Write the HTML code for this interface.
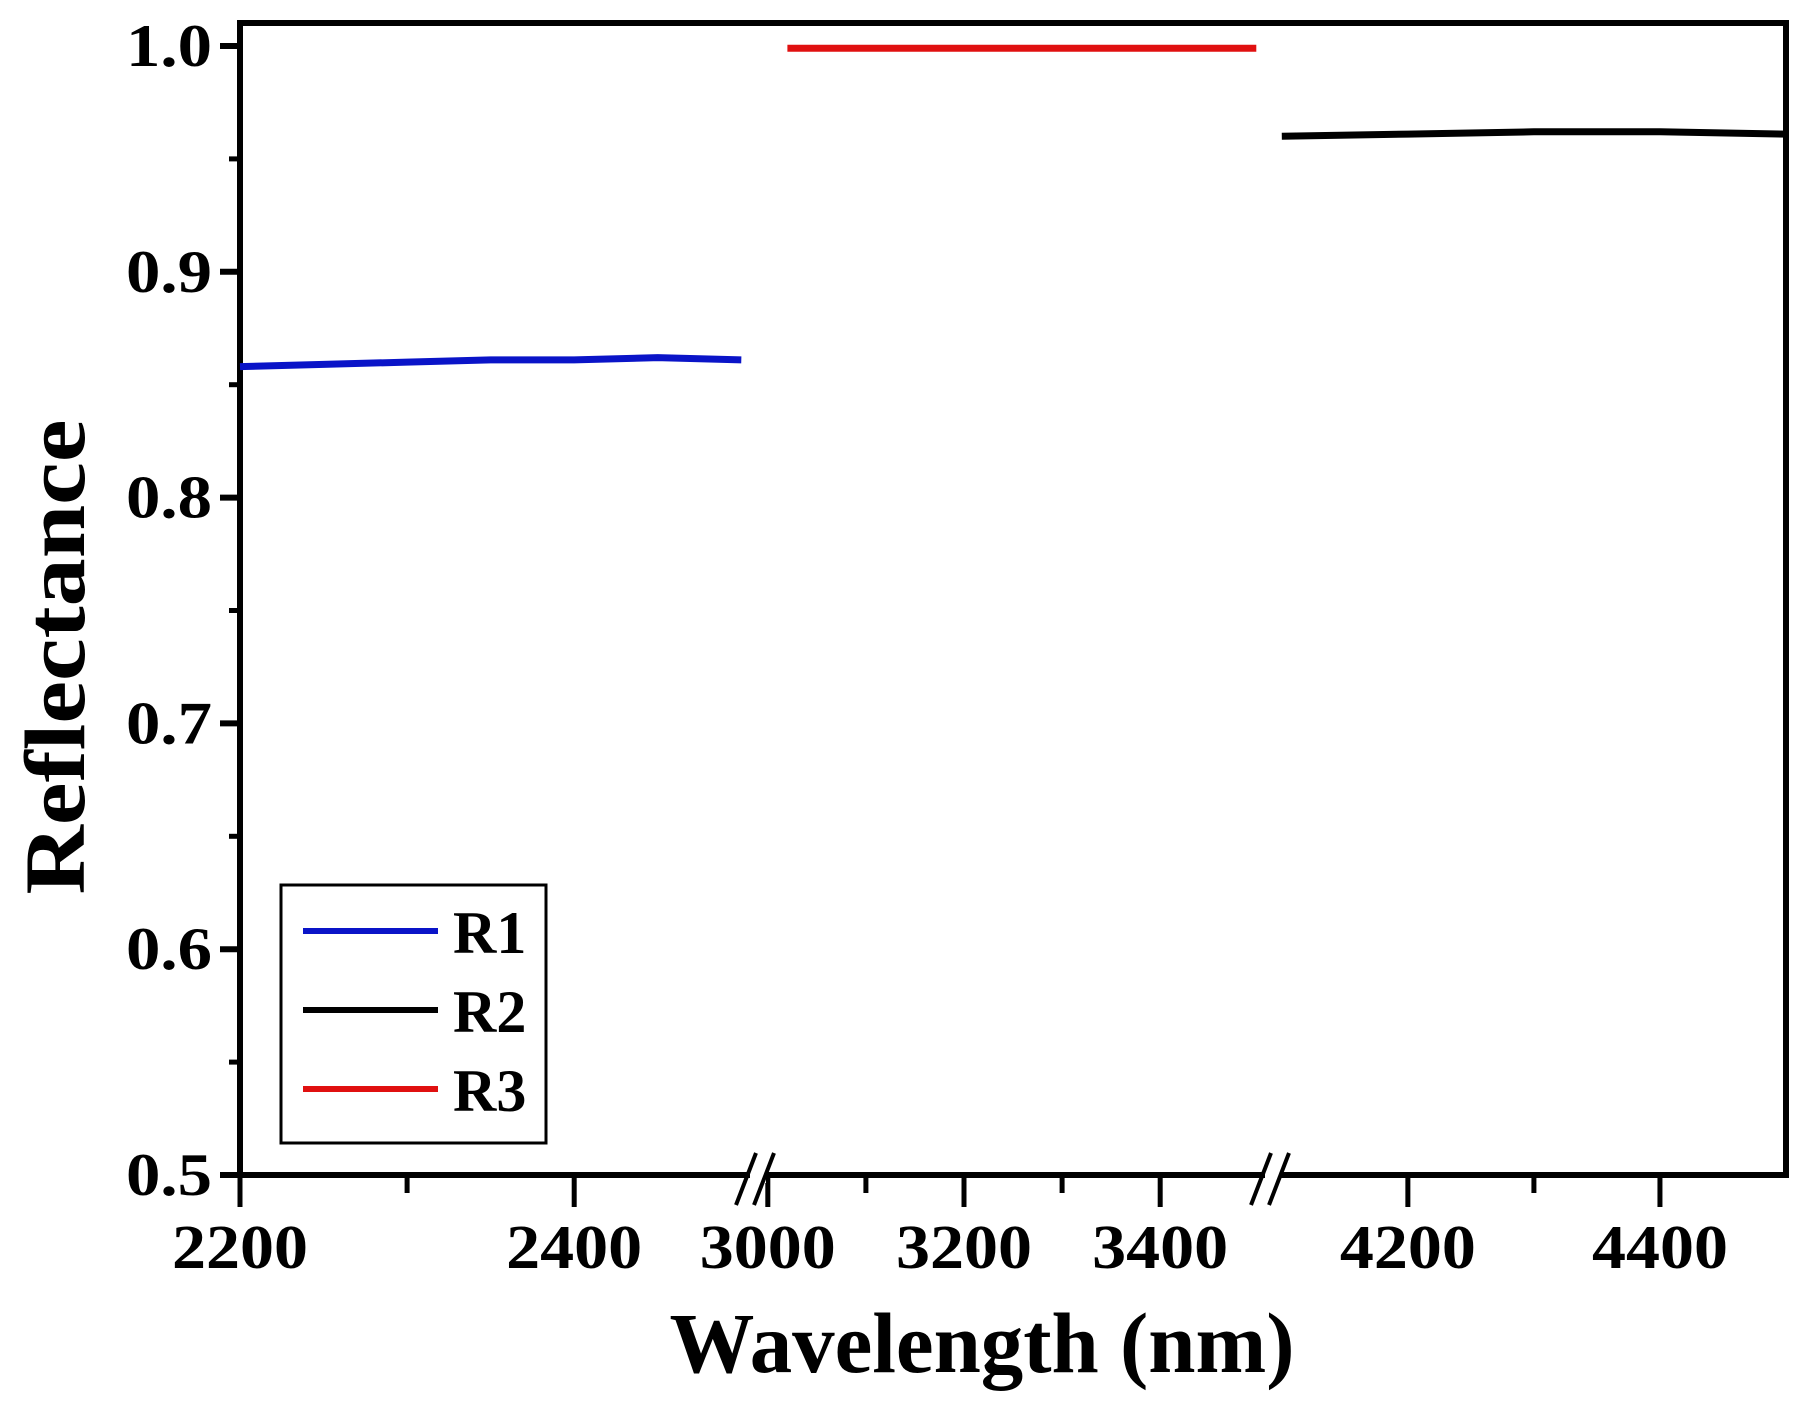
<!DOCTYPE html>
<html><head><meta charset="utf-8"><style>
html,body{margin:0;padding:0;background:#fff;}
svg{display:block;}
text{font-family:"Liberation Serif",serif;font-weight:bold;fill:#000;}
</style></head><body>
<svg id="chart" width="1807" height="1401" viewBox="0 0 1807 1401" xmlns="http://www.w3.org/2000/svg"></svg>
<script>
const seriesNames = ["R1","R2","R3"];
const seriesColors = ["#0a14c8","#000000","#e01010"];
const r1X = [2200, 2250, 2300, 2350, 2400, 2450, 2500];
const r1Y = [0.858, 0.859, 0.860, 0.861, 0.861, 0.862, 0.861];
const r2X = [4100, 4200, 4300, 4400, 4500];
const r2Y = [0.960, 0.961, 0.962, 0.962, 0.961];
const r3X = [3020, 3200, 3350, 3498];
const r3Y = [0.999, 0.999, 0.999, 0.999];
const yTicks = [0.5, 0.6, 0.7, 0.8, 0.9, 1.0];
const yTickLabels = ["0.5","0.6","0.7","0.8","0.9","1.0"];
const xTicks = [2200, 2400, 3000, 3200, 3400, 4200, 4400];
const xTickLabels = ["2200","2400","3000","3200","3400","4200","4400"];
const xMinor = [2300, 3100, 3300, 4300];

const svg = document.getElementById('chart');
const NS = "http://www.w3.org/2000/svg";
const L=240, R=1786, T=23, B=1175;
const segs = [
  {d0:2200, d1:2510, p0:240, p1:758},
  {d0:2990, d1:3515, p0:758, p1:1273},
  {d0:4093, d1:4500, p0:1273, p1:1786}
];
function xs(v){
  for (const s of segs) if (v>=s.d0 && v<=s.d1) return s.p0+(v-s.d0)/(s.d1-s.d0)*(s.p1-s.p0);
  return v<2990?758:1273;
}
function ys(v){ return 1175-(v-0.5)*(1175-46)/0.5; }
function el(tag, attrs, parent){
  const e=document.createElementNS(NS,tag);
  for (const k in attrs) e.setAttribute(k, attrs[k]);
  (parent||svg).appendChild(e); return e;
}
// frame
const frame = el('rect',{x:L,y:T,width:R-L,height:B-T,fill:'none',stroke:'#000','stroke-width':6});


// y ticks
yTicks.forEach((v,i)=>{
  const y=ys(v);
  const t=el('line',{x1:L-20,x2:L,y1:y,y2:y,stroke:'#000','stroke-width':6});
  
  
  const tx=el('text',{x:L-28,y:y+20,'text-anchor':'end','font-size':60,textLength:86,lengthAdjust:'spacingAndGlyphs'});
  tx.textContent=yTickLabels[i];
  
  
  if (i<yTicks.length-1){
    const ym=ys(v+0.05);
    const m=el('line',{x1:L-11,x2:L,y1:ym,y2:ym,stroke:'#000','stroke-width':5});
    
    
  }
});
// x ticks
xTicks.forEach((v,i)=>{
  const x=xs(v);
  const t=el('line',{x1:x,x2:x,y1:B,y2:B+32,stroke:'#000','stroke-width':5});
  
  
  const tx=el('text',{x:x,y:1268,'text-anchor':'middle','font-size':62,textLength:136,lengthAdjust:'spacingAndGlyphs'});
  tx.textContent=xTickLabels[i];
  
  
});
xMinor.forEach(v=>{
  const x=xs(v);
  const m=el('line',{x1:x,x2:x,y1:B,y2:B+18,stroke:'#000','stroke-width':5});
  
  
});
// axis breaks
[758,1273].forEach(bx=>{
  const g=el('g',{});
  
  
  el('rect',{x:bx-8,y:B-8,width:16,height:16,fill:'#fff'},g);
  el('line',{x1:bx-22,x2:bx-2,y1:B+30,y2:B-22,stroke:'#000','stroke-width':4},g);
  el('line',{x1:bx-4,x2:bx+16,y1:B+30,y2:B-22,stroke:'#000','stroke-width':4},g);
});
// series
[[r1X,r1Y],[r2X,r2Y],[r3X,r3Y]].forEach((s,i)=>{
  const pts=s[0].map((x,j)=>xs(x).toFixed(1)+','+ys(s[1][j]).toFixed(1)).join(' ');
  const p=el('polyline',{points:pts,fill:'none',stroke:seriesColors[i],'stroke-width':7});
  
  
});
// legend
const lg=el('g',{});


el('rect',{x:281,y:885,width:265,height:258,fill:'#fff',stroke:'#000','stroke-width':3},lg);
seriesNames.forEach((n,i)=>{
  const y=931+i*79;
  const e=el('g',{},lg);
  
  
  el('line',{x1:303,x2:438,y1:y,y2:y,stroke:seriesColors[i],'stroke-width':6},e);
  const t=el('text',{x:453,y:y+22,'font-size':60},e);
  t.textContent=n;
});
// axis titles
const xt=el('text',{x:982,y:1372,'text-anchor':'middle','font-size':86,textLength:625,lengthAdjust:'spacingAndGlyphs'});
xt.textContent='Wavelength (nm)';


const yt=el('text',{x:0,y:0,'text-anchor':'middle','font-size':86,textLength:475,lengthAdjust:'spacingAndGlyphs',transform:'translate(84,657) rotate(-90)'});
yt.textContent='Reflectance';


</script>
</body></html>
